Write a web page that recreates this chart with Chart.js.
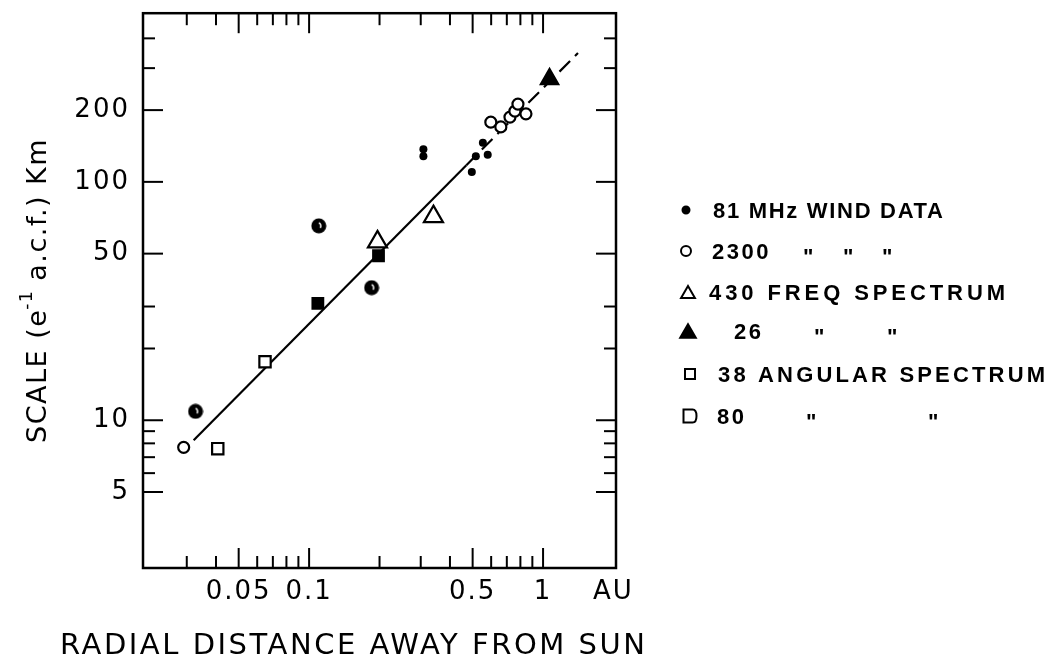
<!DOCTYPE html>
<html>
<head>
<meta charset="utf-8">
<title>Scale vs radial distance from the Sun</title>
<script src="https://cdn.jsdelivr.net/npm/chart.js@4.4.1/dist/chart.umd.min.js"></script>
<style>
  body { margin: 0; background: #fff; }
  #wrap { width: 1048px; height: 663px; }
</style>
</head>
<body>
<div id="wrap"><canvas id="chart"></canvas></div>
<script>
// values: x in AU, y in km
var windX = [0.308, 0.308, 0.496, 0.516, 0.553, 0.58];
var windY = [137, 128, 110, 128, 146, 130];
var ips2300X = [0.0291, 0.598, 0.66, 0.722, 0.758, 0.781, 0.845];
var ips2300Y = [7.7, 178, 170, 187, 198, 212, 193];
var freq430X = [0.196, 0.34];
var freq430Y = [56, 71.5];
var freq26X = [1.066];
var freq26Y = [270];
var ang38X = [0.0407];
var ang38Y = [7.6];
var ang80X = [0.0648];
var ang80Y = [17.6];
var halfX = [0.0327, 0.110, 0.185];
var halfY = [10.9, 65.4, 36.0];
var blackSqX = [0.109, 0.198];
var blackSqY = [30.9, 49.0];
var fitX = [0.0321, 0.47];
var fitY = [8.25, 117.5];
var fitDashX = [0.47, 1.41];
var fitDashY = [117.5, 347];

var xTickVals = [0.05, 0.1, 0.5, 1, 2];
var xTickLabels = ['0.05', '0.1', '0.5', '1', 'AU'];
var yTickVals = [5, 10, 50, 100, 200];
var yTickLabels = ['5', '10', '50', '100', '200'];
var xMajorMarks = [0.05, 0.1, 0.5, 1];
var xMinorMarks = [0.03, 0.04, 0.06, 0.07, 0.08, 0.09, 0.2, 0.3, 0.4, 0.6, 0.7, 0.8, 0.9];
var yMajorMarks = [5, 10, 50, 100, 200];
var yMinorMarks = [6, 7, 8, 9, 20, 30, 300, 400];

var legendRows = [
  ['81 MHz WIND DATA'],
  ['2300', '"', '"', '"'],
  ['430 FREQ SPECTRUM'],
  ['26', '"', '"'],
  ['38 ANGULAR SPECTRUM'],
  ['80', '"', '"']
];
var xTitle = 'RADIAL DISTANCE AWAY FROM SUN';

function pts(xs, ys) {
  return xs.map(function (x, i) { return {x: x, y: ys[i]}; });
}

// black disc with a small white notch, like the half-filled circles
function notchedDisc() {
  var c = document.createElement('canvas');
  c.width = 16; c.height = 16;
  var g = c.getContext('2d');
  g.fillStyle = '#000';
  g.beginPath(); g.arc(8, 8, 7.5, 0, 2 * Math.PI); g.fill();
  g.strokeStyle = '#fff'; g.lineWidth = 1.5;
  g.beginPath(); g.arc(6.5, 8, 3.5, -1.1, 0.6); g.stroke();
  return c;
}

function marker(style, r, fill) {
  return {pointStyle: style, pointRadius: r, pointBackgroundColor: fill,
          pointBorderColor: '#000', pointBorderWidth: 2.2, showLine: false};
}

var datasets = [
  Object.assign({data: pts(windX, windY)}, marker('circle', 4, '#000'), {pointBorderWidth: 0}),
  Object.assign({data: pts(ips2300X, ips2300Y)}, marker('circle', 5.5, '#fff')),
  Object.assign({data: pts(freq430X, freq430Y)}, marker('triangle', 11, '#fff')),
  Object.assign({data: pts(freq26X, freq26Y)}, marker('triangle', 10, '#000')),
  Object.assign({data: pts(ang38X, ang38Y)}, marker('rect', 8, '#fff')),
  Object.assign({data: pts(ang80X, ang80Y)}, marker('rect', 8, '#fff')),
  Object.assign({data: pts(halfX, halfY)}, marker(notchedDisc(), 8, '#000')),
  Object.assign({data: pts(blackSqX, blackSqY)}, marker('rect', 7.5, '#000')),
  {data: pts(fitX, fitY), showLine: true, pointRadius: 0, borderColor: '#000', borderWidth: 2.2},
  {data: pts(fitDashX, fitDashY), showLine: true, pointRadius: 0, borderColor: '#000',
   borderWidth: 2.2, borderDash: [15, 7]}
];

function drawMark(ctx, style, x, y, r, fill) {
  ctx.beginPath();
  if (style === 'circle') {
    ctx.arc(x, y, r, 0, 2 * Math.PI);
  } else if (style === 'triangle') {
    ctx.moveTo(x, y - r);
    ctx.lineTo(x + r * 0.866, y + r / 2);
    ctx.lineTo(x - r * 0.866, y + r / 2);
    ctx.closePath();
  } else if (style === 'round') {
    ctx.moveTo(x - r, y - r);
    ctx.lineTo(x + r * 0.4, y - r);
    ctx.quadraticCurveTo(x + r, y - r, x + r, y);
    ctx.quadraticCurveTo(x + r, y + r, x + r * 0.4, y + r);
    ctx.lineTo(x - r, y + r);
    ctx.closePath();
  } else {
    ctx.rect(x - r, y - r, 2 * r, 2 * r);
  }
  ctx.fillStyle = fill;
  ctx.fill();
  ctx.lineWidth = 2;
  ctx.strokeStyle = '#000';
  ctx.stroke();
}

function spacingFor(ctx, text, width) {
  ctx.letterSpacing = '0px';
  var w = ctx.measureText(text).width;
  return (width - w) / (text.length - 1);
}

var decor = {
  id: 'decor',
  beforeDraw: function (chart) { chart.ctx.letterSpacing = '2px'; },
  beforeDatasetsDraw: function (chart) { chart.ctx.letterSpacing = '0px'; },
  afterDraw: function (chart) {
    var ctx = chart.ctx, ca = chart.chartArea;
    var xs = chart.scales.x, ys = chart.scales.y;
    ctx.save();
    ctx.strokeStyle = '#000';
    ctx.lineWidth = 2.5;
    ctx.strokeRect(ca.left, ca.top, ca.right - ca.left, ca.bottom - ca.top);

    ctx.lineWidth = 2;
    function seg(x1, y1, x2, y2) {
      ctx.beginPath(); ctx.moveTo(x1, y1); ctx.lineTo(x2, y2); ctx.stroke();
    }
    function xMark(v, len) {
      var p = xs.getPixelForValue(v);
      seg(p, ca.bottom, p, ca.bottom - len);
      seg(p, ca.top, p, ca.top + len);
    }
    function yMark(v, len) {
      var p = ys.getPixelForValue(v);
      seg(ca.left, p, ca.left + len, p);
      seg(ca.right, p, ca.right - len, p);
    }
    xMajorMarks.forEach(function (v) { xMark(v, 20); });
    xMinorMarks.forEach(function (v) { xMark(v, 12); });
    yMajorMarks.forEach(function (v) { yMark(v, 20); });
    yMinorMarks.forEach(function (v) { yMark(v, 12); });

    ctx.fillStyle = '#000';
    ctx.textAlign = 'left';
    ctx.textBaseline = 'alphabetic';

    // x title
    ctx.font = '29px "DejaVu Sans"';
    var ls = spacingFor(ctx, xTitle, 585);
    ctx.letterSpacing = ls + 'px';
    ctx.fillText(xTitle, 60, 654);

    // y title, rotated, with superscript -1
    ctx.save();
    ctx.translate(46, 443);
    ctx.rotate(-Math.PI / 2);
    ctx.letterSpacing = '1.5px';
    ctx.font = '27px "DejaVu Sans"';
    var a = 'SCALE (e', b = '-1', c = ' a.c.f.) Km';
    ctx.fillText(a, 0, 0);
    var wa = ctx.measureText(a).width;
    ctx.font = '17px "DejaVu Sans"';
    ctx.fillText(b, wa - 1, -14);
    var wb = ctx.measureText(b).width;
    ctx.font = '27px "DejaVu Sans"';
    ctx.fillText(c, wa + wb - 2, 0);
    ctx.restore();

    // legend
    var rowY = [210, 251, 292, 331, 374, 416];
    var marks = [
      ['circle', 686, 3.5, '#000'], ['circle', 686, 5, '#fff'], ['triangle', 688, 8, '#fff'],
      ['triangle', 688, 9, '#000'], ['rect', 690, 5, '#fff'], ['round', 690, 6.5, '#fff']
    ];
    var textX = [
      [713], [712, 803, 843, 882], [709], [734, 814, 887], [718], [717, 806, 928]
    ];
    var fitW = [230, 0, 296, 0, 327, 0];
    legendRows.forEach(function (row, i) {
      var m = marks[i];
      var my = rowY[i] + (m[0] === 'triangle' ? m[2] / 4 : 0);
      drawMark(ctx, m[0], m[1], my, m[2], m[3]);
      ctx.fillStyle = '#000';
      ctx.font = 'bold 22px "Liberation Sans"';
      row.forEach(function (t, j) {
        var s = fitW[i] && j === 0 ? spacingFor(ctx, t, fitW[i]) : 2.5;
        ctx.letterSpacing = s + 'px';
        var dy = t === '"' ? 13 : 8;
        ctx.fillText(t, textX[i][j], rowY[i] + dy);
      });
    });
    ctx.restore();
  }
};

new Chart(document.getElementById('chart'), {
  type: 'scatter',
  data: {datasets: datasets},
  options: {
    responsive: true,
    maintainAspectRatio: false,
    animation: false,
    events: [],
    layout: {padding: {left: 0, right: 432, top: 12, bottom: 0}},
    plugins: {legend: {display: false}, tooltip: {enabled: false}, title: {display: false}},
    scales: {
      x: {
        type: 'logarithmic',
        min: 0.0195,
        max: 2.05,
        grid: {display: false, drawTicks: false},
        border: {display: false},
        afterBuildTicks: function (s) { s.ticks = xTickVals.map(function (v) { return {value: v}; }); },
        afterFit: function (s) { s.height = 95; s.paddingLeft = 0; s.paddingRight = 0; },
        ticks: {
          autoSkip: false, maxRotation: 0, padding: 9, color: '#000',
          font: {family: 'DejaVu Sans', size: 26},
          callback: function (v) { return xTickLabels[xTickVals.indexOf(v)]; }
        }
      },
      y: {
        type: 'logarithmic',
        min: 2.4,
        max: 510,
        grid: {display: false, drawTicks: false},
        border: {display: false},
        afterBuildTicks: function (s) { s.ticks = yTickVals.map(function (v) { return {value: v}; }); },
        afterFit: function (s) { s.width = 143; s.paddingTop = 0; s.paddingBottom = 0; },
        ticks: {
          autoSkip: false, padding: 13, color: '#000',
          font: {family: 'DejaVu Sans', size: 26},
          callback: function (v) { return yTickLabels[yTickVals.indexOf(v)]; }
        }
      }
    }
  },
  plugins: [decor]
});
</script>
</body>
</html>
